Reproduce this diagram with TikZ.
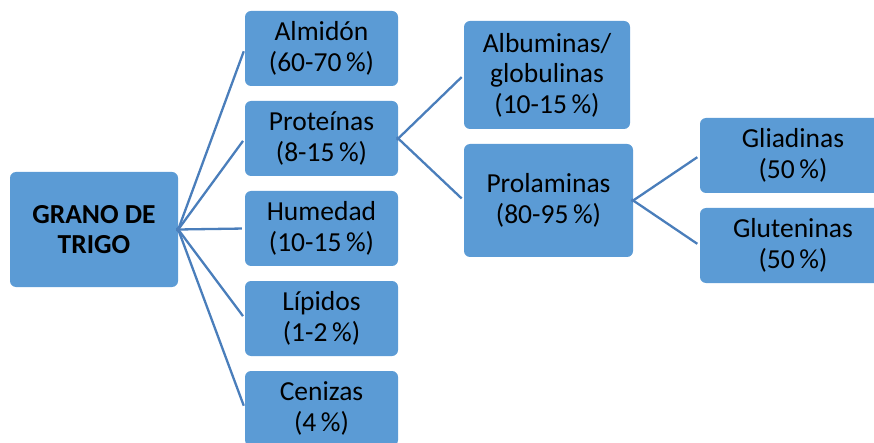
\documentclass[tikz,border=0pt]{standalone}
\usepackage{fontspec}
\setmainfont{Carlito}
\usepackage{tikz}
\usetikzlibrary{calc,positioning}
\definecolor{boxblue}{HTML}{5B9BD5}
\definecolor{lineblue}{HTML}{4A7EBB}

\tikzset{
  part/.style={fill=boxblue, rounded corners=6pt, inner sep=0pt, align=center,
    font=\fontsize{27.5}{30.5}\selectfont},
  link/.style={draw=lineblue, line width=2.3pt, shorten <=-2pt, shorten >=3pt}
}

\begin{document}
\begin{tikzpicture}[x=1pt,y=-1pt]
  \useasboundingbox (0,0) rectangle (874,443);
  \clip (0,0) rectangle (874,443);
  % root
  \node[part, minimum width=168pt, minimum height=115pt,
    font=\fontsize{27.5}{30.5}\selectfont\bfseries] (grano) at (94,229.5) {GRANO DE\\TRIGO};
  % first level
  \node[part, minimum width=153pt, minimum height=75pt] (almidon) at (321.5,48.5) {Almidón\\(60-70\,\%)};
  \node[part, minimum width=153pt, minimum height=75pt] (proteinas) at (321.5,138.5) {Proteínas\\(8-15\,\%)};
  \node[part, minimum width=153pt, minimum height=75pt] (humedad) at (321.5,228.5) {Humedad\\(10-15\,\%)};
  \node[part, minimum width=153pt, minimum height=75pt] (lipidos) at (321.5,318.5) {Lípidos\\(1-2\,\%)};
  \node[part, minimum width=153pt, minimum height=75pt] (cenizas) at (321.5,408.5) {Cenizas\\(4\,\%)};
  % proteins
  \node[part, minimum width=166pt, minimum height=108pt] (albuminas) at (547,75) {Albuminas/\\globulinas\\(10-15\,\%)};
  \node[part, minimum width=169pt, minimum height=113pt] (prolaminas) at (548.5,200.5) {Prolaminas\\(80-95\,\%)};
  % prolamins
  \node[part, minimum width=186pt, minimum height=75pt] (gliadinas) at (793,155.5) {Gliadinas\\(50\,\%)};
  \node[part, minimum width=186pt, minimum height=75pt] (gluteninas) at (793,245.5) {Gluteninas\\(50\,\%)};

  \foreach \n in {almidon,proteinas,humedad,lipidos,cenizas}
    \draw[link] (grano.east) -- (\n.west);
  \foreach \n in {albuminas,prolaminas}
    \draw[link] (proteinas.east) -- (\n.west);
  \foreach \n in {gliadinas,gluteninas}
    \draw[link] (prolaminas.east) -- (\n.west);
\end{tikzpicture}
\end{document}
